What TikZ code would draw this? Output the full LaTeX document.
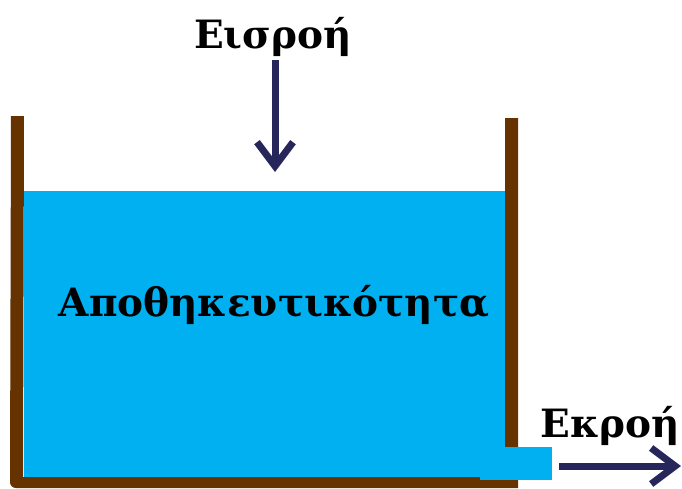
\documentclass[tikz,border=0pt]{standalone}
\usepackage{fontspec}
\setmainfont{DejaVu Serif}
\usetikzlibrary{arrows.meta}
\definecolor{wallbrown}{RGB}{102,51,0}
\definecolor{watercyan}{RGB}{0,176,240}
\definecolor{arrownavy}{RGB}{38,38,90}
\tikzset{
  lbl/.style={inner sep=0pt, font=\bfseries\fontsize{39}{43}\selectfont, text=black},
  flow/.style={draw=arrownavy, line width=7pt, -{Straight Barb[length=24pt,width=36pt]}}
}
\begin{document}
\begin{tikzpicture}[x=1pt,y=-1pt]
\useasboundingbox (0,0) rectangle (682,488);
% water
\fill[watercyan] (24,191) rectangle (505,478);
% walls
\fill[wallbrown] (11,116) -- (24,116) -- (23,477) -- (505,477) -- (505,118) -- (518,118) -- (518,488) -- (16,488) to[out=180,in=-90] (10,482) -- cycle;
% outlet
\fill[watercyan] (480,447) rectangle (552,480);
% labels
\node[lbl] (in) at (273,37) {Εισροή};
\node[lbl] (store) at (274,305) {Αποθηκευτικότητα};
\node[lbl, anchor=base east] (out) at (680,437) {Εκροή};
\coordinate (inA) at (275,60);
\coordinate (inB) at (275,172);
\coordinate (outA) at (559,466);
\coordinate (outB) at (681,466);
\draw[flow] (inA) -- (inB);
\draw[flow] (outA) -- (outB);
\end{tikzpicture}
\end{document}
